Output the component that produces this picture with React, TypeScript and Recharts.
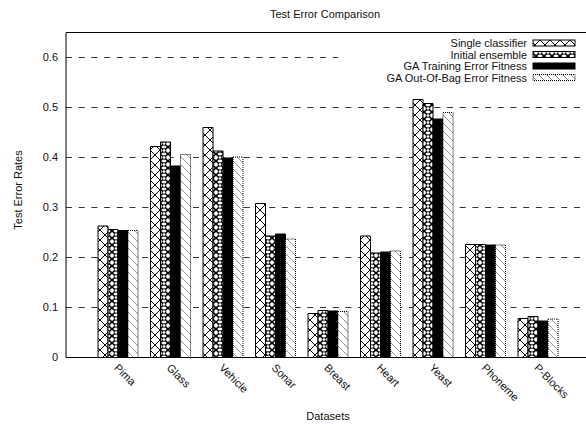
import { BarChart, Bar, XAxis, YAxis, CartesianGrid, ReferenceLine } from "recharts";

const datasets = ["Pima", "Glass", "Vehicle", "Sonar", "Breast", "Heart", "Yeast", "Phoneme", "P-Blocks"];
const singleClassifier = [0.263, 0.422, 0.46, 0.308, 0.088, 0.243, 0.516, 0.226, 0.078];
const initialEnsemble = [0.256, 0.431, 0.413, 0.243, 0.094, 0.209, 0.508, 0.226, 0.082];
const gaTraining = [0.254, 0.383, 0.399, 0.247, 0.093, 0.211, 0.477, 0.225, 0.073];
const gaOutOfBag = [0.254, 0.406, 0.401, 0.237, 0.092, 0.213, 0.49, 0.225, 0.077];
const yTicks = [0, 0.1, 0.2, 0.3, 0.4, 0.5, 0.6];

const seriesNames = ["Single classifier", "Initial ensemble", "GA Training Error Fitness", "GA Out-Of-Bag Error Fitness"];
const seriesKeys = ["single", "initial", "gaTrain", "gaOob"];
const seriesFills = ["url(#patCross)", "url(#patRing)", "#000", "url(#patDiag)"];
const seriesDash = [undefined, undefined, undefined, "1 1"];

const data = datasets.map((name, i) => ({
  name,
  single: singleClassifier[i],
  initial: initialEnsemble[i],
  gaTrain: gaTraining[i],
  gaOob: gaOutOfBag[i],
}));

const FONT = "'Liberation Sans', Arial, Helvetica, sans-serif";

function XTick(props: any) {
  const { x, y, payload } = props;
  return (
    <text
      transform={`translate(${x - 5},${y + 11}) rotate(45)`}
      fontSize={11}
      fontFamily={FONT}
      fill="#111"
      textAnchor="start"
    >
      {payload.value}
    </text>
  );
}

function Patterns() {
  return (
    <svg width={0} height={0} style={{ position: "absolute" }}>
      <defs>
        <pattern id="patCross" width={10} height={10} patternUnits="userSpaceOnUse">
          <rect width={10} height={10} fill="#fff" />
          <path d="M0,0 L10,10 M10,0 L0,10" stroke="#000" strokeWidth={1} />
        </pattern>
        <pattern id="patRing" width={8} height={7} patternUnits="userSpaceOnUse">
          <rect width={8} height={7} fill="#fff" />
          <path d="M0,0 L8,7 M8,0 L0,7" stroke="#000" strokeWidth={1.6} />
          <circle cx={4} cy={3.5} r={1.8} fill="#fff" stroke="#000" strokeWidth={0.9} />
        </pattern>
        <pattern id="patDiag" width={8} height={8} patternUnits="userSpaceOnUse">
          <rect width={8} height={8} fill="#fff" />
          <path d="M0,0 L8,8 M-2,6 L2,10 M6,-2 L10,2" stroke="#777" strokeWidth={0.8} />
        </pattern>
      </defs>
    </svg>
  );
}

function KeyBox() {
  return (
    <svg width={586} height={424} style={{ position: "absolute", left: 0, top: 0, pointerEvents: "none" }}>
      <rect x={338} y={35} width={244} height={50} fill="#fff" />
      {seriesNames.map((name, i) => {
        const cy = 43 + i * 11.5;
        return (
          <g key={name}>
            <text x={527} y={cy + 4} fontSize={11} fontFamily={FONT} fill="#111" textAnchor="end">
              {name}
            </text>
            <rect
              x={533}
              y={cy - 3}
              width={42}
              height={6}
              fill={seriesFills[i]}
              stroke="#000"
              strokeWidth={1}
              strokeDasharray={seriesDash[i]}
            />
          </g>
        );
      })}
    </svg>
  );
}

export default function App() {
  return (
    <div style={{ position: "fixed", left: 0, top: 0, width: 586, height: 424, overflow: "hidden", background: "#fff" }}>
      <Patterns />
      <BarChart
        width={600}
        height={424}
        data={data}
        margin={{ top: 32.5, right: 9, left: 0, bottom: 0 }}
        barCategoryGap="11%"
        barGap={0}
      >
        <CartesianGrid vertical={false} stroke="#333" strokeDasharray="6 6.7" />
        <XAxis
          dataKey="name"
          height={66.5}
          padding={{ left: 26.25, right: 26.25 }}
          tickSize={0}
          tickMargin={0}
          tickLine={false}
          interval={0}
          axisLine={{ stroke: "#000", strokeWidth: 1 }}
          tick={<XTick />}
        />
        <YAxis
          width={66}
          domain={[0, 0.65]}
          ticks={yTicks}
          allowDataOverflow
          tickSize={0}
          tickMargin={8}
          tickLine={false}
          axisLine={{ stroke: "#000", strokeWidth: 1 }}
          tick={{ fontSize: 11, fontFamily: FONT, fill: "#111" }}
        />
        <ReferenceLine y={0.65} stroke="#000" strokeWidth={1} />
        {seriesKeys.map((k, i) => (
          <Bar
            key={k}
            dataKey={k}
            name={seriesNames[i]}
            fill={seriesFills[i]}
            stroke="#000"
            strokeWidth={1}
            strokeDasharray={seriesDash[i]}
            isAnimationActive={false}
          />
        ))}
      </BarChart>
      <svg width={586} height={424} style={{ position: "absolute", left: 0, top: 0, pointerEvents: "none" }}>
        <text x={325} y={18} fontSize={11} fontFamily={FONT} fill="#111" textAnchor="middle">
          Test Error Comparison
        </text>
        <text x={328} y={420} fontSize={11} fontFamily={FONT} fill="#111" textAnchor="middle">
          Datasets
        </text>
        <text
          transform="translate(22,190) rotate(-90)"
          fontSize={11}
          fontFamily={FONT}
          fill="#111"
          textAnchor="middle"
        >
          Test Error Rates
        </text>
      </svg>
      <KeyBox />
    </div>
  );
}
